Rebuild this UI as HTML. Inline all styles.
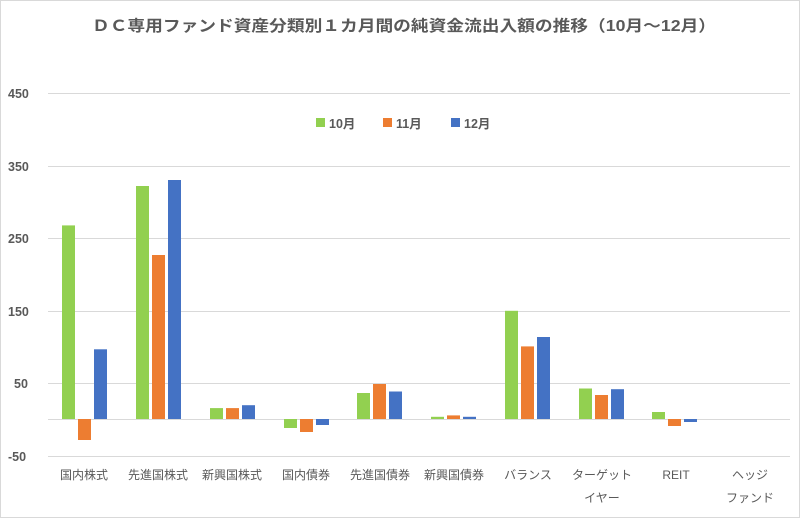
<!DOCTYPE html>
<html><head><meta charset="utf-8"><style>
html,body{margin:0;padding:0;background:#fff}
svg{display:block}
text{font-family:"Liberation Sans","Noto Sans CJK JP",sans-serif;fill:#595959}
</style></head><body>
<svg width="800" height="518" xmlns="http://www.w3.org/2000/svg">
<rect x="0.5" y="0.5" width="799" height="517" fill="#fff" stroke="#d9d9d9"/>
<text x="404" y="31" text-anchor="middle" font-size="15.5" font-weight="bold" textLength="624" lengthAdjust="spacingAndGlyphs">ＤＣ専用ファンド資産分類別１カ月間の純資金流出入額の推移（10月～12月）</text>
<g stroke="#d9d9d9" stroke-width="1">
<line x1="48" x2="790" y1="93.5" y2="93.5"/>
<line x1="48" x2="790" y1="166.5" y2="166.5"/>
<line x1="48" x2="790" y1="238.5" y2="238.5"/>
<line x1="48" x2="790" y1="311.5" y2="311.5"/>
<line x1="48" x2="790" y1="383.5" y2="383.5"/>
<line x1="48" x2="790" y1="419.5" y2="419.5"/>
<line x1="48" x2="790" y1="456.5" y2="456.5"/>
</g>
<g font-size="12.5" font-weight="bold" text-anchor="start">
<text x="8" y="98">450</text>
<text x="8" y="171">350</text>
<text x="8" y="243">250</text>
<text x="8" y="316">150</text>
<text x="14" y="388">50</text>
<text x="8" y="461">-50</text>
</g>
<g font-size="12.5" font-weight="bold">
<rect x="316" y="118" width="9" height="9" fill="#92D050"/><text x="329" y="128">10月</text>
<rect x="383" y="118" width="9" height="9" fill="#ED7D31"/><text x="396" y="128">11月</text>
<rect x="451" y="118" width="9" height="9" fill="#4472C4"/><text x="464" y="128">12月</text>
</g>
<g id="bars"></g>
<g font-size="12" text-anchor="middle">
<text x="84" y="479">国内株式</text>
<text x="158" y="479">先進国株式</text>
<text x="232" y="479">新興国株式</text>
<text x="306" y="479">国内債券</text>
<text x="380" y="479">先進国債券</text>
<text x="454" y="479">新興国債券</text>
<text x="528" y="479">バランス</text>
<text x="602" y="479">ターゲット</text>
<text x="602" y="502">イヤー</text>
<text x="676" y="479">REIT</text>
<text x="750" y="479">ヘッジ</text>
<text x="750" y="502">ファンド</text>
</g>
<g>
<rect x="62" y="225.4" width="13" height="193.6" fill="#92D050"/>
<rect x="78" y="419" width="13" height="21" fill="#ED7D31"/>
<rect x="94" y="349.3" width="13" height="69.7" fill="#4472C4"/>

<rect x="136" y="186" width="13" height="233" fill="#92D050"/>
<rect x="152" y="255" width="13" height="164" fill="#ED7D31"/>
<rect x="168" y="180" width="13" height="239" fill="#4472C4"/>

<rect x="210" y="408.1" width="13" height="10.9" fill="#92D050"/>
<rect x="226" y="408.1" width="13" height="10.9" fill="#ED7D31"/>
<rect x="242" y="405.2" width="13" height="13.8" fill="#4472C4"/>

<rect x="284" y="419" width="13" height="9" fill="#92D050"/>
<rect x="300" y="419" width="13" height="13" fill="#ED7D31"/>
<rect x="316" y="419" width="13" height="6" fill="#4472C4"/>

<rect x="357" y="393" width="13" height="26" fill="#92D050"/>
<rect x="373" y="384" width="13" height="35" fill="#ED7D31"/>
<rect x="389" y="391.5" width="13" height="27.5" fill="#4472C4"/>

<rect x="431" y="416.8" width="13" height="2.2" fill="#92D050"/>
<rect x="447" y="415.4" width="13" height="3.6" fill="#ED7D31"/>
<rect x="463" y="416.8" width="13" height="2.2" fill="#4472C4"/>

<rect x="505" y="310.8" width="13" height="108.2" fill="#92D050"/>
<rect x="521" y="346.4" width="13" height="72.6" fill="#ED7D31"/>
<rect x="537" y="337" width="13" height="82" fill="#4472C4"/>

<rect x="579" y="388.5" width="13" height="30.5" fill="#92D050"/>
<rect x="595" y="395" width="13" height="24" fill="#ED7D31"/>
<rect x="611" y="389.2" width="13" height="29.8" fill="#4472C4"/>

<rect x="652" y="412" width="13" height="7" fill="#92D050"/>
<rect x="668" y="419" width="13" height="7" fill="#ED7D31"/>
<rect x="684" y="419" width="13" height="3" fill="#4472C4"/>
</g>
</svg>
</body></html>
